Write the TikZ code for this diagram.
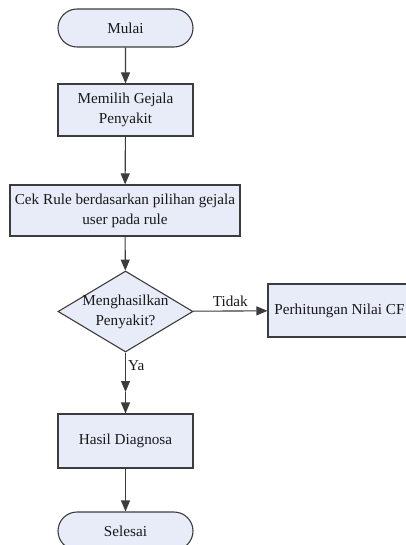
\documentclass[tikz,border=0pt]{standalone}
\usepackage{fontspec}
\setmainfont{Liberation Serif}
\usetikzlibrary{arrows.meta,shapes.geometric,shapes.misc}
\definecolor{boxfill}{HTML}{E8ECF8}
\definecolor{linec}{HTML}{3C3C3C}
\tikzset{
  txt/.style={font=\fontsize{15.2}{20}\selectfont, text=black!90},
  base/.style={draw=linec, line width=1.1pt, fill=boxfill, txt, align=center, inner sep=0pt},
  term/.style={base, rounded rectangle, minimum width=135pt, minimum height=38pt},
  proc/.style={base, rectangle, minimum width=135pt},
  decide/.style={base, diamond, minimum width=135pt, minimum height=81pt},
  flow/.style={draw=linec, line width=1.1pt, -{Triangle[width=9pt,length=11pt]}},
  lbl/.style={txt, inner sep=0pt}
}
\begin{document}
\begin{tikzpicture}[x=1pt,y=-1pt]
\useasboundingbox (0,0) rectangle (406,545);
\clip (0,0) rectangle (406,545);
\node[term] (mulai) at (125.5,28) {Mulai};
\node[proc, minimum height=52pt] (pilih) at (125.5,110) {Memilih Gejala\\Penyakit};
\node[proc, minimum width=230pt, minimum height=51pt] (cek) at (125,210.5) {Cek Rule berdasarkan pilihan gejala\\user pada rule};
\node[decide, label={[lbl, align=center, name=hasiltext]center:Menghasilkan\\Penyakit?}] (hasilq) at (125.5,311.5) {};
\node[proc, minimum width=143pt, minimum height=53pt] (cf) at (339.5,310.5) {Perhitungan Nilai CF};
\node[proc, minimum height=54pt] (diag) at (125.5,441) {Hasil Diagnosa};
\node[term] (selesai) at (125.5,531) {Selesai};
\draw[flow] (mulai) -- (pilih);
\draw[flow] (pilih) -- (cek);
\draw[flow] (cek) -- (hasilq);
\draw[flow] (hasilq) -- node[lbl, above, yshift=4pt] (tidak) {Tidak} (cf);
\coordinate (ya) at (125.5,392);
\draw[flow] (hasilq.south) -- (ya);
\node[lbl, anchor=west] (yalbl) at (128,366) {Ya};
\draw[flow] (ya) -- (diag);
\draw[flow] (diag) -- (selesai);
\end{tikzpicture}
\end{document}
